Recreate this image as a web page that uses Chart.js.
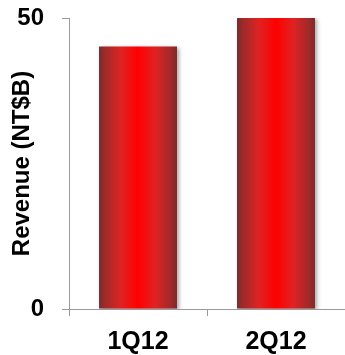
<!DOCTYPE html>
<html>
<head>
<meta charset="utf-8">
<script src="https://cdn.jsdelivr.net/npm/chart.js@4/dist/chart.umd.min.js"></script>
<style>
  html, body { margin: 0; padding: 0; background: #fff; }
  #wrap { width: 345px; height: 355px; }
</style>
</head>
<body>
<div id="wrap"><canvas id="chart"></canvas></div>
<script>
// ── Data ─────────────────────────────────────────────────────────────────
var quarters = ['1Q12', '2Q12'];
var revenue  = [45.1, 50];
var yTicks   = [0, 50];

var AXIS = '#9a9a9a';
var FONT = "'Liberation Sans', Arial, sans-serif";

// Horizontal bar gradient: dark rim, bright red centre
function barFill(ctx) {
    var chart = ctx.chart;
    var area  = chart.chartArea;
    if (!area) return '#e00';
    var xs    = chart.scales.x;
    var cx    = xs.getPixelForValue(ctx.dataIndex);
    var half  = (area.width / quarters.length) * 0.565 / 2;
    var g = chart.ctx.createLinearGradient(cx - half, 0, cx + half, 0);
    g.addColorStop(0.00, '#7a2c2c');
    g.addColorStop(0.08, '#a02a2a');
    g.addColorStop(0.28, '#e02222');
    g.addColorStop(0.50, '#ff0000');
    g.addColorStop(0.72, '#e02222');
    g.addColorStop(0.92, '#a02a2a');
    g.addColorStop(1.00, '#7a2c2c');
    return g;
}

// soft drop shadow behind the bars
var barShadow = {
    id: 'barShadow',
    beforeDatasetsDraw: function(chart) {
        var c = chart.ctx;
        c.save();
        c.shadowColor   = 'rgba(0,0,0,0.35)';
        c.shadowBlur    = 4;
        c.shadowOffsetX = 2;
        c.shadowOffsetY = 1;
    },
    afterDatasetsDraw: function(chart) {
        chart.ctx.restore();
    }
};

new Chart(document.getElementById('chart'), {
    type: 'bar',
    data: {
        labels: quarters,
        datasets: [{
            data: revenue,
            backgroundColor: barFill,
            borderWidth: 0,
            categoryPercentage: 1,
            barPercentage: 0.565
        }]
    },
    plugins: [barShadow],
    options: {
        responsive: true,
        maintainAspectRatio: false,
        animation: false,
        layout: { padding: { top: 18, right: 0, left: 0, bottom: 0 } },
        plugins: { legend: { display: false }, tooltip: { enabled: false } },
        scales: {
            x: {
                grid: { offset: true, drawOnChartArea: false, color: AXIS, tickLength: 7 },
                border: { color: AXIS, width: 1 },
                ticks: { color: '#000', padding: 11, font: { family: FONT, size: 25, weight: 'bold' } },
                afterFit: function(s) { s.height = 46; s.paddingLeft = 0; s.paddingRight = 0; }
            },
            y: {
                min: 0,
                max: 50,
                afterBuildTicks: function(s) { s.ticks = yTicks.map(function(v) { return { value: v }; }); },
                grid: { drawOnChartArea: false, color: AXIS, tickLength: 7 },
                border: { color: AXIS, width: 1 },
                ticks: { color: '#000', padding: 18, font: { family: FONT, size: 24, weight: 'bold' } },
                title: {
                    display: true,
                    text: 'Revenue (NT$B)',
                    color: '#000',
                    padding: { top: 8, bottom: 0 },
                    font: { family: FONT, size: 24, weight: 'bold' }
                },
                afterFit: function(s) { s.width = 69; s.paddingTop = 0; s.paddingBottom = 0; }
            }
        }
    }
});
</script>
</body>
</html>
